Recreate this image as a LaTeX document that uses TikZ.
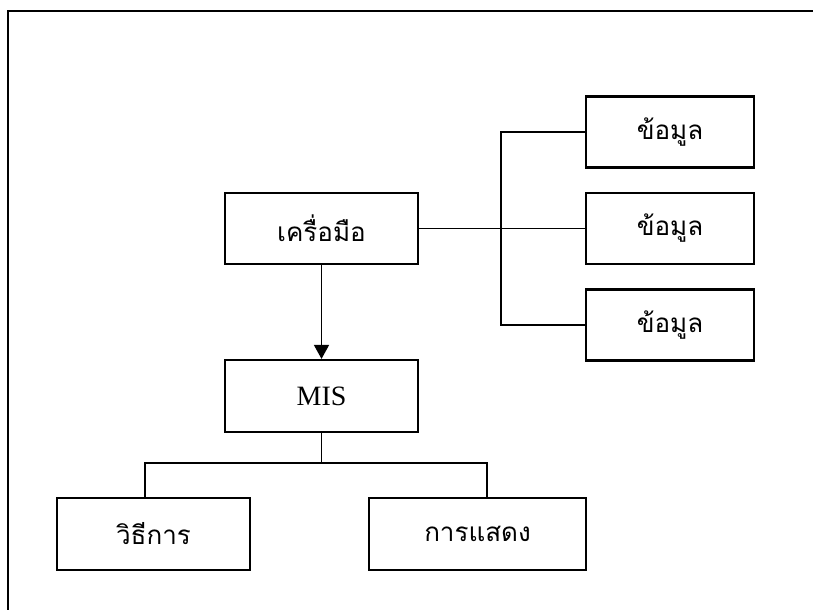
\documentclass[tikz,border=0pt]{standalone}
\usepackage{fontspec}
\setmainfont{Liberation Serif}
\newfontfamily\thaifont[Script=Thai]{Loma}
\usetikzlibrary{arrows.meta}
\begin{document}
\begin{tikzpicture}[x=1pt,y=-1pt,
  box/.style={draw, line width=2.2pt, minimum width=193pt, minimum height=71pt, inner sep=0pt, font=\thaifont\fontsize{26}{30}\selectfont},
  conn/.style={line width=1.6pt},
  frame/.style={line width=2pt}]
\useasboundingbox (0,0) rectangle (813,610);
% frame (only top and left edges visible)
\coordinate (fa) at (813,11.5);
\coordinate (fb) at (7.5,11.5);
\coordinate (fc) at (7.5,610);
\draw[frame] (fa) -- (fb) -- (fc);
% nodes
\node[box] (tool) at (321.5,228.5) {เครื่อมือ};
\node[box, minimum width=168pt] (d1) at (670,132) {ข้อมูล};
\node[box, minimum width=168pt] (d2) at (670,228.5) {ข้อมูล};
\node[box, minimum width=168pt] (d3) at (670,325) {ข้อมูล};
\node[box, minimum height=72pt, font=\fontsize{28}{32}\selectfont] (mis) at (321.5,396) {MIS};
\node[box, minimum height=72pt] (m1) at (153.5,534) {วิธีการ};
\node[box, minimum height=72pt, minimum width=217pt] (m2) at (477.5,534) {การแสดง};
% connectors to data
\draw[conn] (tool.east) -- (d2.west);
\draw[conn] (d1.west) -- ++(-84,0) coordinate (bt) -- (bt |- d3.west) -- (d3.west);
% arrow
\draw[conn, -{Triangle[width=15pt,length=14pt]}] (tool.south) -- (mis.north);
% tree below MIS
\coordinate (j) at ([yshift=-30pt]mis.south);
\draw[conn] (mis.south) -- (j);
\draw[conn] ([xshift=-8.5pt]m1.north) |- (j) -| ([xshift=9.5pt]m2.north);
\end{tikzpicture}
\end{document}
